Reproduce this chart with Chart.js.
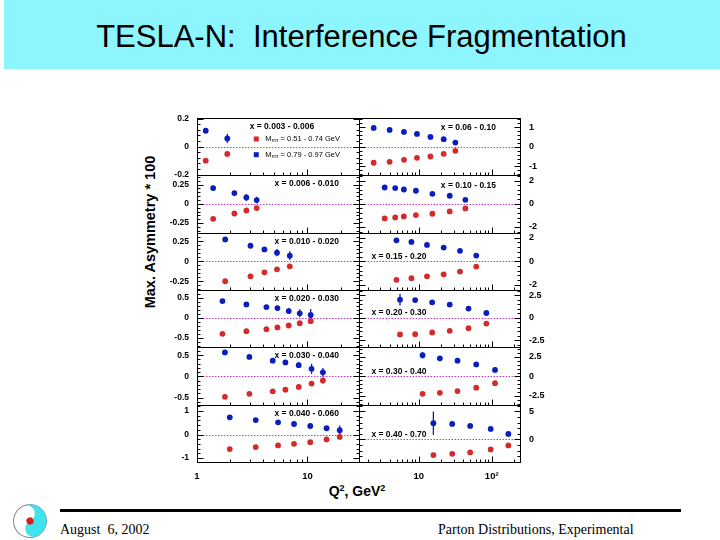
<!DOCTYPE html>
<html>
<head>
<meta charset="utf-8">
<script src="https://cdn.jsdelivr.net/npm/chart.js@4.4.0/dist/chart.umd.min.js"></script>
<style>
  body { margin: 0; width: 720px; height: 540px; position: relative; overflow: hidden; background: #fff; font-family: Arial, "Liberation Sans", sans-serif; }
  #banner { position: absolute; left: 4px; top: 0; width: 716px; height: 69px; background: #8cf5fd; }
  #title { position: absolute; left: 0; top: 21px; width: 723px; text-align: center; font-size: 31px; line-height: 31px; white-space: pre; color: #000; }
  #ytitle { position: absolute; left: 150px; top: 232px; transform: translate(-50%, -50%) rotate(-90deg); font-weight: bold; font-size: 14.5px; white-space: nowrap; }
  #xtitle { position: absolute; left: 357px; top: 491px; transform: translate(-50%, -50%); font-weight: bold; font-size: 14px; white-space: nowrap; }
  #xtitle sup { font-size: 9px; }
  #rule { position: absolute; left: 60px; top: 509px; width: 621px; height: 3px; background: #000; }
  .foot { position: absolute; top: 523px; font-family: "Liberation Serif", "Times New Roman", serif; font-size: 14px; line-height: 14px; white-space: pre; }
  #logo { position: absolute; left: 12px; top: 503px; transform: rotate(-25deg); }
  #chart { position: absolute; left: 0; top: 0; }
</style>
</head>
<body>
<div id="banner"></div>
<div id="title">TESLA-N:  Interference Fragmentation</div>
<div id="ytitle">Max. Asymmetry * 100</div>
<div id="xtitle">Q<sup>2</sup>, GeV<sup>2</sup></div>
<div id="rule"></div>
<svg id="logo" width="36" height="36" viewBox="0 0 36 36">
  <circle cx="18" cy="18" r="16.5" fill="#fff" stroke="#8a8a8a" stroke-width="1"/>
  <path d="M18 1.5 A16.5 16.5 0 0 1 18 34.5 A8.25 8.25 0 0 1 18 18 A8.25 8.25 0 0 0 18 1.5Z" fill="#3ee3ee"/>
  <circle cx="18" cy="18" r="3.6" fill="#e01818"/>
</svg>
<div class="foot" style="left:60px">August  6, 2002</div>
<div class="foot" style="left:438px">Parton Distributions, Experimental</div>
<canvas id="chart" width="720" height="540"></canvas>

<script>
// x-bin labels, top row first
const binLabelsLeft = ['x = 0.003 - 0.006', 'x = 0.006 - 0.010', 'x = 0.010 - 0.020',
                       'x = 0.020 - 0.030', 'x = 0.030 - 0.040', 'x = 0.040 - 0.060'];
const binLabelsRight = ['x = 0.06 - 0.10', 'x = 0.10 - 0.15', 'x = 0.15 - 0.20',
                        'x = 0.20 - 0.30', 'x = 0.30 - 0.40', 'x = 0.40 - 0.70'];
const massLabels = ['0.51 - 0.74 GeV', '0.79 - 0.97 GeV'];

// Q2 axes (log)
const q2RangeLeft = [1, 29];
const q2RangeRight = [1.5, 244];
const xTicksLeft = [1, 10];
const xTicksRight = [10, 100];

// y axes per row
const yRangeLeft = [[-0.205, 0.205], [-0.375, 0.37], [-0.36, 0.36], [-0.73, 0.695], [-0.667, 0.686], [-1.17, 1.27]];
const yRangeRight = [[-1.45, 1.47], [-2.49, 2.45], [-2.43, 2.42], [-3.26, 3.1], [-3.63, 3.74], [-4.0, 6.18]];
const yTicksLeft = [[-0.2, 0, 0.2], [-0.25, 0, 0.25], [-0.25, 0, 0.25], [-0.5, 0, 0.5], [-0.5, 0, 0.5], [-1, 0, 1]];
const yTicksRight = [[-1, 0, 1], [-2, 0, 2], [-2, 0, 2], [-2.5, 0, 2.5], [-2.5, 0, 2.5], [0, 5]];

// left column: Q2 and asymmetries (red = low mass, blue = high mass)
const q2Left = [
  [1.2, 1.88],
  [1.40, 2.18, 2.8, 3.47],
  [1.80, 3.05, 4.08, 5.3, 6.92],
  [1.70, 2.8, 4.25, 5.35, 6.77, 8.52, 10.7],
  [1.79, 2.98, 4.85, 6.32, 8.34, 10.9, 13.8],
  [1.98, 3.4, 5.42, 7.56, 10.6, 14.9, 19.6]
];
const lowMassLeft = [
  [-0.100, -0.052],
  [-0.195, -0.126, -0.087, -0.056],
  [-0.25, -0.188, -0.138, -0.100, -0.063],
  [-0.394, -0.328, -0.278, -0.236, -0.187, -0.131, -0.081],
  [-0.483, -0.411, -0.353, -0.314, -0.249, -0.169, -0.097],
  [-0.62, -0.536, -0.464, -0.397, -0.325, -0.211, -0.101]
];
const highMassLeft = [
  [0.114, 0.059],
  [0.204, 0.139, 0.082, 0.048],
  [0.275, 0.196, 0.150, 0.109, 0.071],
  [0.419, 0.337, 0.271, 0.246, 0.172, 0.116, 0.074],
  [0.565, 0.459, 0.372, 0.331, 0.266, 0.179, 0.097],
  [0.73, 0.616, 0.519, 0.447, 0.363, 0.266, 0.181]
];
const lowErrLeft = [
  [0, 0],
  [0, 0, 0.015, 0.026],
  [0, 0, 0, 0.015, 0.03],
  [0, 0, 0, 0, 0, 0, 0.07],
  [0, 0, 0, 0, 0, 0, 0.07],
  [0, 0, 0, 0, 0, 0, 0]
];
const highErrLeft = [
  [0, 0.032],
  [0, 0.015, 0.045, 0.045],
  [0, 0.012, 0.03, 0.045, 0.055],
  [0, 0, 0.03, 0.06, 0.075, 0.1, 0.15],
  [0, 0, 0, 0, 0.07, 0.12, 0.1],
  [0, 0, 0, 0, 0, 0, 0.2]
];

// right column
const q2Right = [
  [2.42, 4.0, 6.29, 9.48, 14.5, 22.0, 31.8],
  [3.42, 4.77, 6.27, 9.16, 15.4, 26.6, 43.6],
  [4.96, 7.96, 13.0, 22.0, 36.8, 61.4],
  [5.55, 8.95, 15.3, 26.6, 48.1, 84.5],
  [11.3, 19.5, 34.0, 61.4, 111],
  [15.9, 28.8, 50.7, 96.8, 169]
];
const lowMassRight = [
  [-0.81, -0.76, -0.66, -0.56, -0.49, -0.355, -0.2],
  [-1.26, -1.18, -1.09, -0.97, -0.86, -0.66, -0.40],
  [-1.57, -1.43, -1.27, -1.10, -0.87, -0.45],
  [-1.83, -1.80, -1.61, -1.43, -1.13, -0.62],
  [-2.24, -2.11, -1.88, -1.45, -0.87],
  [-2.77, -2.54, -2.30, -1.77, -1.06]
];
const highMassRight = [
  [0.964, 0.863, 0.761, 0.66, 0.508, 0.39, 0.218],
  [1.40, 1.35, 1.23, 1.12, 0.86, 0.69, 0.34],
  [1.77, 1.64, 1.38, 1.16, 0.88, 0.48],
  [2.03, 1.98, 1.73, 1.48, 1.04, 0.55],
  [2.72, 2.33, 2.03, 1.54, 0.84],
  [2.88, 2.76, 2.40, 1.87, 0.99]
];
const lowErrRight = [
  [0, 0, 0, 0, 0, 0, 0],
  [0, 0, 0, 0, 0, 0, 0],
  [0, 0, 0, 0, 0, 0],
  [0, 0, 0, 0, 0, 0],
  [0, 0, 0, 0, 0],
  [0, 0, 0, 0, 0]
];
const highErrRight = [
  [0, 0, 0, 0, 0, 0, 0.08],
  [0, 0, 0, 0, 0, 0, 0],
  [0, 0, 0, 0, 0, 0],
  [0.65, 0, 0, 0, 0, 0],
  [0.4, 0, 0, 0, 0.3],
  [2.07, 0, 0, 0, 0.35]
];

const RED = '#d42a2a';
const BLUE = '#0a1ebe';
const ZERO = '#c838c8';

function logAxis(range, ticks, weight, labelFn) {
  return {
    type: 'logarithmic', position: 'bottom', stack: 'q2', weight: weight,
    min: range[0], max: range[1],
    afterBuildTicks: s => { s.ticks = ticks.map(v => ({ value: v })); },
    afterFit: s => { s.height = 18; },
    grid: { display: false, drawTicks: false }, border: { display: false },
    ticks: { autoSkip: false, maxRotation: 0, padding: 9, color: '#000',
             font: { family: 'Arial', size: 9.5, weight: 'bold' }, callback: labelFn }
  };
}

function linAxis(side, range, ticks, weight) {
  return {
    type: 'linear', position: side, stack: side, weight: weight,
    min: range[0], max: range[1],
    afterBuildTicks: s => { s.ticks = ticks.map(v => ({ value: v })); },
    afterFit: s => { s.width = side === 'left' ? 57 : 40; },
    grid: { display: false, drawTicks: false }, border: { display: false },
    ticks: { autoSkip: false, padding: side === 'left' ? 8 : 9, color: '#000',
             font: { family: 'Arial', size: side === 'left' ? 8.5 : 9, weight: 'bold' },
             callback: v => String(v) }
  };
}

const scales = {
  xL: logAxis(q2RangeLeft, xTicksLeft, 0, v => String(v)),
  xR: logAxis(q2RangeRight, xTicksRight, 1, v => (v === 100 ? '10\u00b2' : String(v)))
};
const datasets = [];

function addColumn(col, q2, low, high, lowErr, highErr, ranges, ticks) {
  for (let r = 0; r < 6; r++) {
    const yId = 'y' + col + r;
    scales[yId] = linAxis(col === 'L' ? 'left' : 'right', ranges[r], ticks[r], col === 'L' ? 6 - r : r);
    [[low[r], lowErr[r], RED], [high[r], highErr[r], BLUE]].forEach(([vals, errs, color]) => {
      datasets.push({
        type: 'scatter',
        xAxisID: 'x' + col, yAxisID: yId,
        data: q2[r].map((q, i) => ({ x: q, y: vals[i] })),
        errors: errs,
        backgroundColor: color, borderColor: color, borderWidth: 0,
        pointRadius: 2.9, pointHoverRadius: 2.9
      });
    });
  }
}
addColumn('L', q2Left, lowMassLeft, highMassLeft, lowErrLeft, highErrLeft, yRangeLeft, yTicksLeft);
addColumn('R', q2Right, lowMassRight, highMassRight, lowErrRight, highErrRight, yRangeRight, yTicksRight);

function eachPanel(chart, fn) {
  ['L', 'R'].forEach(col => {
    for (let r = 0; r < 6; r++) {
      fn({ col: col, row: r, x: chart.scales['x' + col], y: chart.scales['y' + col + r],
           ticks: col === 'L' ? yTicksLeft[r] : yTicksRight[r],
           label: col === 'L' ? binLabelsLeft[r] : binLabelsRight[r] });
    }
  });
}

const px = v => Math.round(v) + 0.5;

const panelPlugin = {
  id: 'panels',
  beforeDatasetsDraw(chart) {
    const ctx = chart.ctx;
    ctx.save();
    // dotted zero lines
    ctx.strokeStyle = ZERO;
    ctx.lineWidth = 1;
    ctx.setLineDash([1.5, 1.5]);
    eachPanel(chart, p => {
      const y0 = px(p.y.getPixelForValue(0));
      ctx.beginPath();
      ctx.moveTo(p.x.left, y0);
      ctx.lineTo(p.x.right, y0);
      ctx.stroke();
    });
    ctx.setLineDash([]);
    // error bars
    chart.data.datasets.forEach((ds, i) => {
      const meta = chart.getDatasetMeta(i);
      const ys = chart.scales[ds.yAxisID];
      ctx.strokeStyle = ds.backgroundColor;
      ctx.lineWidth = 1.3;
      ds.errors.forEach((e, j) => {
        if (!e) return;
        const pt = meta.data[j];
        const v = ds.data[j].y;
        ctx.beginPath();
        ctx.moveTo(pt.x, ys.getPixelForValue(v + e));
        ctx.lineTo(pt.x, ys.getPixelForValue(v - e));
        ctx.stroke();
      });
    });
    ctx.restore();
  },
  afterDatasetsDraw(chart) {
    const ctx = chart.ctx;
    ctx.save();
    ctx.strokeStyle = '#000';
    ctx.fillStyle = '#000';
    ctx.lineWidth = 1;
    eachPanel(chart, p => {
      const L = px(p.x.left), R = px(p.x.right), T = px(p.y.top), B = px(p.y.bottom);
      ctx.strokeRect(L, T, R - L, B - T);
      ctx.beginPath();
      // log ticks on the bottom edge
      const lo = Math.floor(Math.log10(p.x.min)), hi = Math.ceil(Math.log10(p.x.max));
      for (let d = lo; d <= hi; d++) {
        for (let k = 1; k <= 9; k++) {
          const v = k * Math.pow(10, d);
          if (v < p.x.min || v > p.x.max) continue;
          const xx = px(p.x.getPixelForValue(v));
          const len = k === 1 ? 6 : 3;
          ctx.moveTo(xx, B); ctx.lineTo(xx, B - len);
        }
      }
      // y ticks on left and right edges
      const step = p.ticks.length > 1 ? p.ticks[1] - p.ticks[0] : 1;
      const minor = step / 5;
      const start = Math.ceil(p.y.min / minor - 1e-6);
      for (let k = start; k * minor <= p.y.max + 1e-9; k++) {
        const v = k * minor;
        const yy = px(p.y.getPixelForValue(v));
        const major = p.ticks.some(t => Math.abs(t - v) < 1e-6);
        const len = major ? 6 : 3;
        ctx.moveTo(L, yy); ctx.lineTo(L + len, yy);
        ctx.moveTo(R, yy); ctx.lineTo(R - len, yy);
      }
      ctx.stroke();

      // bin label
      ctx.font = 'bold 8.5px Arial';
      ctx.textBaseline = 'middle';
      ctx.textAlign = 'left';
      const w = p.x.right - p.x.left;
      let lx, ly;
      if (p.col === 'L') {
        lx = p.x.left + w * (p.row === 0 ? 0.326 : 0.48);
        ly = p.y.top + 8.5;
      } else if (p.row < 2) {
        lx = p.x.left + w * 0.51;
        ly = p.y.top + 10;
      } else {
        lx = p.x.left + w * 0.08;
        ly = p.y.getPixelForValue(0) - 5;
      }
      ctx.fillText(p.label, lx, ly);

      // legend in the first panel
      if (p.col === 'L' && p.row === 0) {
        const h = p.y.bottom - p.y.top;
        [[RED, massLabels[0], 0.366], [BLUE, massLabels[1], 0.64]].forEach(([color, txt, fy]) => {
          const mx = p.x.left + w * 0.367, my = p.y.top + h * fy;
          ctx.fillStyle = color;
          ctx.fillRect(mx - 2.5, my - 2.5, 5, 5);
          ctx.fillStyle = '#000';
          ctx.font = '7.5px Arial';
          ctx.fillText('M', mx + 9, my);
          let tx = mx + 9 + ctx.measureText('M').width;
          ctx.font = '5px Arial';
          ctx.fillText('\u03c0\u03c0', tx, my + 2);
          tx += ctx.measureText('\u03c0\u03c0').width;
          ctx.font = '7.5px Arial';
          ctx.fillText(' = ' + txt, tx, my);
        });
      }
    });
    ctx.restore();
  }
};

new Chart(document.getElementById('chart'), {
  type: 'scatter',
  data: { datasets: datasets },
  options: {
    responsive: false,
    animation: false,
    devicePixelRatio: 1,
    layout: { padding: { left: 140, top: 118, right: 160, bottom: 60 } },
    plugins: { legend: { display: false }, title: { display: false }, tooltip: { enabled: false } },
    scales: scales
  },
  plugins: [panelPlugin]
});
</script>
</body>
</html>
